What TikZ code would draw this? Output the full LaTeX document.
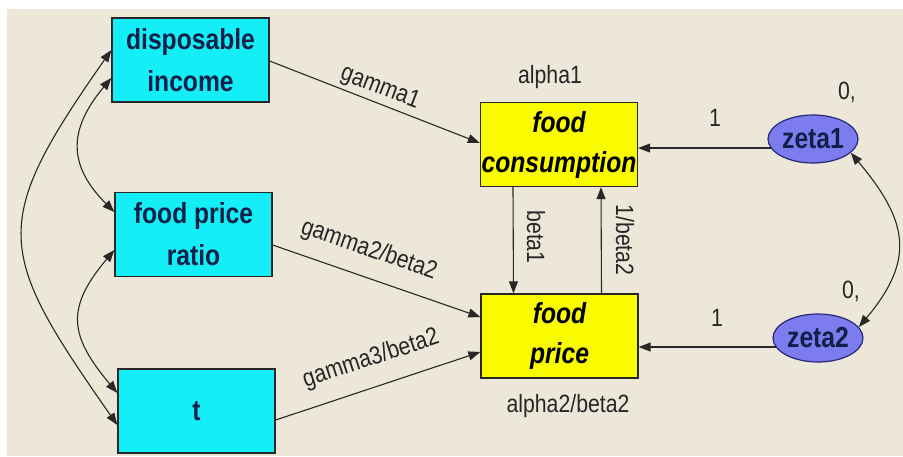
\documentclass[tikz,border=0pt]{standalone}
\usepackage{fontspec}
\setmainfont{Liberation Sans}[FakeStretch=0.85]
\usetikzlibrary{arrows.meta, shapes.geometric}

\definecolor{paper}{RGB}{236,231,216}
\definecolor{obsfill}{RGB}{20,238,246}
\definecolor{endofill}{RGB}{250,250,0}
\definecolor{errfill}{RGB}{124,124,238}
\definecolor{errline}{RGB}{40,40,120}
\definecolor{navytext}{RGB}{16,32,72}
\definecolor{linegray}{RGB}{40,40,40}

\begin{document}
\begin{tikzpicture}[x=1pt, y=-1pt,
  semtip/.tip={Triangle[length=12pt, width=9pt]},
  obs/.style={rectangle, draw=linegray, line width=1.3pt, fill=obsfill,
    minimum width=157pt, minimum height=84pt, inner sep=0pt, align=center,
    text=navytext, font=\bfseries\fontsize{29}{42}\selectfont},
  endo/.style={rectangle, draw=linegray, line width=1.3pt, fill=endofill,
    minimum width=157pt, minimum height=84pt, inner sep=0pt, align=center,
    text=black, font=\bfseries\itshape\fontsize{29}{40}\selectfont},
  err/.style={ellipse, draw=errline, line width=1.2pt, fill=errfill,
    minimum width=90pt, minimum height=48pt, inner sep=0pt,
    text=navytext, font=\bfseries\fontsize{29}{30}\selectfont},
  arc/.style={draw=linegray, line width=1.1pt, -semtip},
  cov/.style={draw=linegray, line width=1.1pt, semtip-semtip},
  lbl/.style={inner sep=0pt, text=black!85, font=\fontsize{25}{25}\selectfont}
]
% page and panel
\fill[white] (0,0) rectangle (903,456);
\useasboundingbox (0,0) rectangle (903,456);
\fill[paper] (7,9) rectangle (903,456);

% exogenous variables
\node[obs] (inc) at (190.5,60)  {disposable\\income};
\node[obs] (fpr) at (193.5,234.5) {food price\\ratio};
\node[obs] (t)   at (196.5,411) {t};

% endogenous variables
\node[endo] (fc) at (559,144.5) {food\\consumption};
\node[endo] (fp) at (559.5,336) {food\\price};

% disturbances
\node[err] (z1) at (813,139) {zeta1};
\node[err] (z2) at (818,338) {zeta2};

% covariances among the exogenous variables
\draw[cov] ([yshift=-18pt]inc.west) to[out=230, in=135, looseness=1.27] ([yshift=22.5pt]fpr.west);
\draw[cov] ([yshift=-15.5pt]fpr.west) to[out=230, in=130, looseness=1.35] ([yshift=18pt]t.west);
\draw[cov] ([yshift=10pt]inc.west) to[out=235, in=125, looseness=1.45] ([yshift=-14pt]t.west);

% regression paths
\draw[arc] ([yshift=-1pt]inc.east) -- ([yshift=1.5pt]fc.west);
\draw[arc] ([yshift=-10.5pt]fpr.east) -- ([yshift=19pt]fp.west);
\draw[arc] ([yshift=-9pt]t.east) -- ([yshift=-16pt]fp.west);
\draw[arc] ([xshift=-46pt]fc.south) -- ([xshift=-46pt]fp.north);
\draw[arc] ([xshift=42pt]fp.north) -- ([xshift=42pt]fc.south);

% disturbance paths
\draw[arc] (z1.192) -- (z1.192 -| fc.east);
\draw[arc] (z2.192) -- (z2.192 -| fp.east);
\draw[cov] (z1.-20) to[out=-50, in=50, looseness=1.3] (z2.15);

% parameter labels
\node[lbl, rotate=-21] (lg1) at (380,88) {gamma1};
\node[lbl, rotate=-19] (lg2) at (369,250) {gamma2/beta2};
\node[lbl, rotate=18]  (lg3) at (371,359) {gamma3/beta2};
\node[lbl, rotate=-90] (lb1) at (536,237) {beta1};
\node[lbl, rotate=-90] (lb2) at (625,240) {1/beta2};
\node[lbl] (la1) at (550,77) {alpha1};
\node[lbl] (la2) at (568,406) {alpha2/beta2};
\node[lbl] (lw1) at (715,118) {1};
\node[lbl] (lw2) at (717,318) {1};
\node[lbl] (lv1) at (847,92) {0,};
\node[lbl] (lv2) at (851,291) {0,};
\end{tikzpicture}
\end{document}
